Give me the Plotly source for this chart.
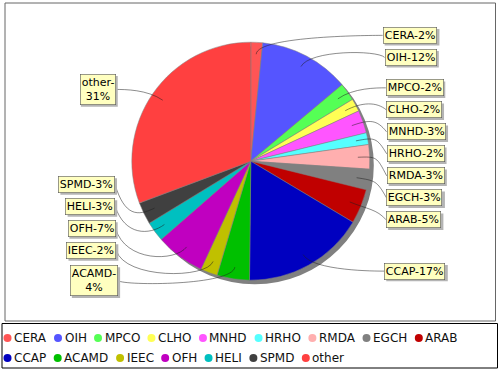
import math
import plotly.graph_objects as go

# ---------------- data ----------------
categories = ["CERA", "OIH", "MPCO", "CLHO", "MNHD", "HRHO", "RMDA", "EGCH", "ARAB",
              "CCAP", "ACAMD", "IEEC", "OFH", "HELI", "SPMD", "other"]
values = [1.6, 12.3, 2.4, 1.75, 3.1, 1.6, 3.3, 2.8, 4.7,
          16.6, 4.4, 2.3, 6.7, 2.7, 3.0, 30.7]
colors = ["#FF5555", "#5555FF", "#55FF55", "#FFFF55", "#FF55FF", "#55FFFF", "#FFAFAF",
          "#808080", "#C00000", "#0000C0", "#00C000", "#C0C000", "#C000C0", "#00C0C0",
          "#404040", "#FF4040"]

# ---------------- layout constants (pixels) ----------------
W, H = 500, 370
CX, CY, R = 250.8, 161.2, 119.0
LINK_R = 126.0
LINK_DEPTH = 0.9
LABEL_FS = 11
LEGEND_FS = 12
FONT = "DejaVu Sans"
PAD, BW = 1.2, 0.6

# approximate DejaVu Sans advance widths (em)
CW = {"A": .684, "B": .686, "C": .698, "D": .770, "E": .632, "F": .575, "G": .775,
      "H": .752, "I": .295, "L": .557, "M": .863, "N": .748, "O": .787, "P": .603,
      "R": .695, "S": .635, "o": .612, "t": .392, "h": .634, "e": .615, "r": .411,
      "-": .361, "%": .950}


def text_w(s, fs):
    return sum(CW.get(c, .636) for c in s) * fs


total = sum(values)
shapes = []
annotations = []

# plot area frame and legend frame
shapes.append(dict(type="rect", xref="x", yref="y", x0=5, x1=495.5, y0=3, y1=321,
                   line=dict(color="#666666", width=1), fillcolor="white", layer="below"))
shapes.append(dict(type="rect", xref="x", yref="y", x0=2, x1=497.5, y0=323.5, y1=368,
                   line=dict(color="black", width=1), fillcolor="white", layer="below"))
# pie shadow
shapes.append(dict(type="circle", xref="x", yref="y", x0=CX + 4 - R, x1=CX + 4 + R,
                   y0=CY + 4 - R, y1=CY + 4 + R, fillcolor="#808080",
                   line=dict(width=0), layer="below"))

# ---------------- label records ----------------
recs = []
cum = 0.0
for cat, v in zip(categories, values):
    a0 = cum / total * 360.0
    cum += v
    a1 = cum / total * 360.0
    mid = math.radians((a0 + a1) / 2.0)
    pct = int(v / total * 100 + 0.5)
    txt = f"{cat}-{pct}%"
    side = "right" if (a0 + a1) / 2.0 < 180 else "left"
    maxw = 56 if side == "left" else 70
    parts = [txt]
    if text_w(txt, LABEL_FS) > maxw:
        i = txt.index("-") + 1
        parts = [txt[:i], txt[i:]]
    recs.append(dict(parts=parts, mid=mid, side=side,
                     h=15.5 if len(parts) == 1 else 32.0,
                     y=CY - LINK_R * math.cos(mid)))

GAP = 6.5
BOTTOM = CY + 135.5
TOP = CY - 135.5
for side in ("right", "left"):
    rs = sorted([r for r in recs if r["side"] == side], key=lambda r: r["y"])
    for i in range(1, len(rs)):
        p, c = rs[i - 1], rs[i]
        need = p["y"] + p["h"] / 2 + GAP + c["h"] / 2
        if c["y"] < need:
            c["y"] = min(BOTTOM - c["h"] / 2, need)
    for i in range(len(rs) - 1, 0, -1):
        p, c = rs[i - 1], rs[i]
        lim = c["y"] - c["h"] / 2 - GAP - p["h"] / 2
        if p["y"] > lim:
            p["y"] = max(TOP + p["h"] / 2, lim)

for r in recs:
    y = r["y"]
    g = math.sqrt(max(0.0, 1 - ((y - CY) / 128.0) ** 2))
    off = 130.9 + 5.0 * g
    sgn = 1 if r["side"] == "right" else -1
    xe = CX + sgn * off
    mid = r["mid"]
    ex, ey = CX + LINK_R * math.sin(mid), CY - LINK_R * math.cos(mid)
    lx, ly = CX + R * LINK_DEPTH * math.sin(mid), CY - R * LINK_DEPTH * math.cos(mid)
    ax = CX + sgn * LINK_R
    path = f"M {xe:.2f} {y:.2f} C {ax:.2f} {ey:.2f}, {ex:.2f} {ey:.2f}, {lx:.2f} {ly:.2f}"
    shapes.append(dict(type="path", xref="x", yref="y", path=path,
                       line=dict(color="rgba(30,30,30,0.85)", width=0.6), layer="above"))
    # label box shadow (estimated size of the box)
    n = len(r["parts"])
    bw = max(text_w(p, LABEL_FS) for p in r["parts"]) + 2 * (PAD + BW)
    bh = LABEL_FS * (1.17 + 1.3 * (n - 1)) + 2 * (PAD + BW)
    bx0 = xe if sgn == 1 else xe - bw
    shapes.append(dict(type="rect", xref="x", yref="y", x0=bx0 + 2, x1=bx0 + bw + 2,
                       y0=y - bh / 2 + 2, y1=y + bh / 2 + 2, fillcolor="#B4B4B4",
                       line=dict(width=0), layer="above"))
    xanchor = "left" if sgn == 1 else "right"
    annotations.append(dict(x=xe, y=y, xref="x", yref="y", text="<br>".join(r["parts"]),
                            showarrow=False, xanchor=xanchor, yanchor="middle", align="center",
                            font=dict(family=FONT, size=LABEL_FS, color="black"),
                            bgcolor="#FFFFC0", bordercolor="#555555", borderwidth=BW,
                            borderpad=PAD))

# ---------------- legend (manual flow layout) ----------------
leg_x, leg_y, leg_c = [], [], []
rows = [338, 358]
row = 0
x = 7.5
for cat, col in zip(categories, colors):
    tw = text_w(cat, LEGEND_FS)
    if x + 5.5 + tw > 494:
        row += 1
        x = 7.5
    leg_x.append(x)
    leg_y.append(rows[row])
    leg_c.append(col)
    annotations.append(dict(x=x + 4.5, y=rows[row], xref="x", yref="y", text=cat,
                            showarrow=False, xanchor="left", yanchor="middle",
                            font=dict(family=FONT, size=LEGEND_FS, color="#111111")))
    x += 5.5 + tw + 12.5

fig = go.Figure()
fig.add_trace(go.Scatter(x=leg_x, y=leg_y, mode="markers",
                         marker=dict(color=leg_c, size=8, line=dict(width=0)),
                         hoverinfo="skip", showlegend=False))
fig.add_trace(go.Pie(labels=categories, values=values, sort=False, direction="clockwise",
                     rotation=0, textinfo="none", showlegend=False,
                     marker=dict(colors=colors, line=dict(color="#808080", width=0.5)),
                     domain=dict(x=[(CX - R) / W, (CX + R) / W],
                                 y=[1 - (CY + R) / H, 1 - (CY - R) / H])))

fig.update_layout(
    width=W, height=H, margin=dict(l=0, r=0, t=0, b=0),
    paper_bgcolor="white", plot_bgcolor="white", showlegend=False,
    xaxis=dict(range=[0, W], domain=[0, 1], visible=False, fixedrange=True),
    yaxis=dict(range=[H, 0], domain=[0, 1], visible=False, fixedrange=True),
    shapes=shapes, annotations=annotations,
    font=dict(family=FONT),
)
fig.write_html("out.html", config={"displayModeBar": False},
               post_script="document.body.style.margin='0';document.body.style.padding='0';")
